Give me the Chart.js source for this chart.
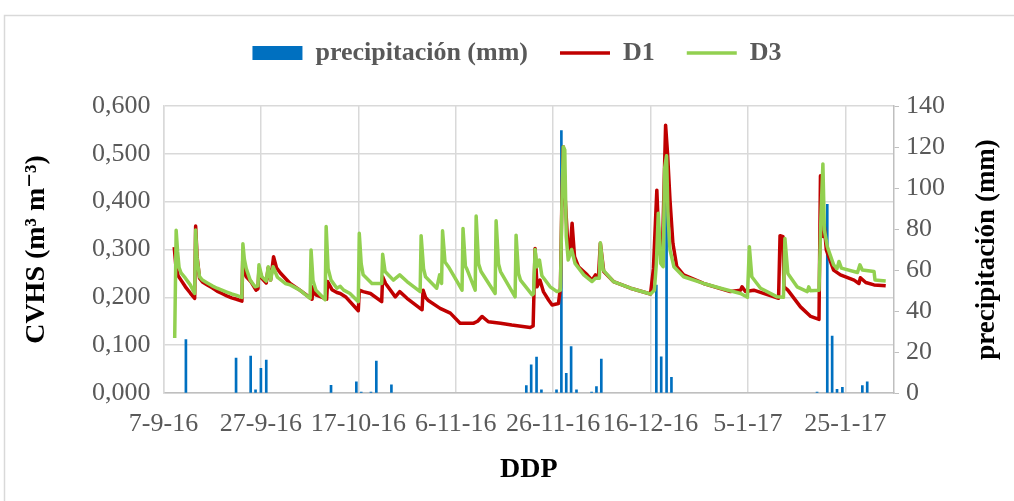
<!DOCTYPE html>
<html>
<head>
<meta charset="utf-8">
<title>CVHS y precipitación</title>
<script src="https://cdn.jsdelivr.net/npm/chart.js@4.4.1/dist/chart.umd.min.js"></script>
<style>
  html, body { margin: 0; padding: 0; background: #fff; }
  #wrap { width: 1014px; height: 501px; }
</style>
</head>
<body>
<div id="wrap"><canvas id="cvhsChart" width="1014" height="501"></canvas></div>
<script>
// días desde el 7-9-16
const xTickDays = [0, 20, 40, 60, 80, 100, 120, 140];
const xTickLabels = ['7-9-16', '27-9-16', '17-10-16', '6-11-16', '26-11-16', '16-12-16', '5-1-17', '25-1-17'];

// precipitación diaria (mm)
const rainDay = [4.6, 14.9, 17.9, 18.9, 20.0, 21.1, 34.4, 39.6, 40.6, 42.6, 43.7, 46.8,
  74.5, 75.5, 76.6, 77.6, 80.7, 81.7, 82.7, 83.7, 84.8, 87.9, 88.9, 89.9,
  101.2, 102.2, 103.3, 104.3, 134.2, 136.3, 137.3, 138.3, 139.4, 143.5, 144.5];
const rainMm = [26, 17, 18, 1.5, 12, 16, 3.8, 5.5, 0.5, 0.5, 15.6, 4,
  3.6, 13.7, 17.5, 1.5, 1.5, 128, 9.6, 22.6, 1.5, 0.5, 3.1, 16.6,
  52.7, 17.7, 112, 7.6, 0.5, 92, 27.8, 1.8, 2.8, 3.6, 5.5];

// sensor D1
const d1Day = [2.2, 2.5, 3.0, 3.6, 4.5, 5.5, 6.4, 6.6, 6.9, 7.4, 8, 9, 10, 11, 12, 13, 14, 15, 16.1,
  16.3, 16.6, 17, 18, 19, 19.4, 19.6, 20.2, 21.1, 21.5, 22, 22.6, 23.2, 24, 26, 28, 30.5,
  30.7, 31.3, 33.5, 33.7, 34.6, 35.6, 36.3, 37.5, 40, 40.2, 41, 42.5, 44.8, 45, 45.6, 47.6,
  48.5, 50, 53.1, 53.3, 53.8, 54.3, 56.8, 58.9, 60.9, 63.7, 64.5, 65.4, 66.7, 69.2, 71.5,
  75.3, 75.9, 76.3, 76.7, 77.3, 78, 79.1, 79.8, 81.1, 81.5, 81.8, 82.1, 82.5, 83, 83.5,
  83.9, 84.4, 85.2, 87, 88, 88.7, 89.3, 89.7, 90.4, 92.4, 95.9, 100, 100.6, 101.3, 101.8,
  102.4, 103.1, 103.5, 104, 104.6, 105.4, 106.8, 110.9, 116.4, 118.5, 118.8, 119.5, 121.2,
  126.3, 126.6, 127.2, 127.4, 128.2, 130.8, 132.9, 134.6, 134.9, 135.2, 135.5, 135.7,
  136.1, 137.6, 139, 141.8, 142.8, 143.1, 144.2, 145.9, 148.3];
const d1Val = [0.305, 0.270, 0.245, 0.236, 0.222, 0.209, 0.198, 0.349, 0.285, 0.240, 0.232, 0.226, 0.220, 0.213, 0.208, 0.203, 0.199, 0.196, 0.192,
  0.293, 0.255, 0.243, 0.232, 0.215, 0.218, 0.260, 0.240, 0.230, 0.262, 0.236, 0.285, 0.262, 0.251, 0.229, 0.215, 0.196,
  0.222, 0.205, 0.196, 0.233, 0.216, 0.210, 0.208, 0.200, 0.172, 0.215, 0.212, 0.208, 0.191, 0.243, 0.229, 0.201,
  0.212, 0.198, 0.174, 0.215, 0.200, 0.194, 0.177, 0.167, 0.146, 0.146, 0.150, 0.160, 0.149, 0.146, 0.142,
  0.137, 0.140, 0.302, 0.222, 0.236, 0.212, 0.194, 0.184, 0.187, 0.220, 0.400, 0.515, 0.404, 0.313, 0.299,
  0.355, 0.285, 0.264, 0.247, 0.236, 0.247, 0.240, 0.313, 0.254, 0.233, 0.219, 0.207, 0.260, 0.424, 0.299,
  0.275, 0.560, 0.501, 0.404, 0.313, 0.264, 0.247, 0.229, 0.212, 0.215, 0.222, 0.212, 0.215,
  0.198, 0.329, 0.327, 0.222, 0.215, 0.180, 0.160, 0.154, 0.454, 0.410, 0.327, 0.348,
  0.299, 0.257, 0.247, 0.236, 0.229, 0.241, 0.231, 0.226, 0.224];

// sensor D3
const d3Day = [2.3, 2.6, 2.9, 3.2, 3.6, 4.5, 5.5, 6.4, 6.6, 6.9, 7.4, 8, 9, 10, 11, 12, 13, 14, 15, 16.1,
  16.3, 16.6, 17, 17.8, 18.8, 19.4, 19.6, 20.2, 21.1, 21.5, 22, 22.5, 23.4, 25, 26, 28, 30.1,
  30.3, 30.7, 31.3, 33.2, 33.4, 33.8, 34.4, 35.6, 36.3, 37, 38.3, 40, 40.2, 40.6, 41, 42.8,
  44.8, 45, 45.5, 47.2, 48.5, 50, 52.7, 52.9, 53.4, 53.8, 56.1, 56.7, 57.1, 57.3, 57.8, 58.5,
  60.3, 61.3, 61.5, 62, 62.3, 64, 64.2, 64.7, 65.2, 68.1, 68.3, 68.8, 69.2, 72.2, 72.4, 72.9,
  73.3, 75.7, 76, 76.3, 76.7, 77.2, 77.7, 79.4, 80.8, 81.5, 81.8, 82.1, 82.4, 82.7, 83.1,
  83.8, 84.5, 86.3, 88, 88.7, 89.5, 89.7, 90.3, 92.4, 95.9, 100, 100.8, 101.2, 101.6, 102.1,
  102.6, 102.9, 103.3, 103.6, 104, 104.8, 106.8, 110.9, 114.4, 118.5, 119.9, 120.3, 120.8,
  122.6, 126, 127.3, 127.6, 128.2, 130.1, 132.2, 132.5, 132.8, 134.6, 135, 135.4, 135.7,
  136.3, 137.6, 138.3, 138.7, 139.2, 142.5, 143, 143.5, 145.9, 146.1, 148.3];
const d3Val = [0.115, 0.340, 0.295, 0.262, 0.251, 0.240, 0.226, 0.208, 0.341, 0.280, 0.243, 0.236, 0.230, 0.224, 0.219, 0.215, 0.211, 0.207, 0.204, 0.200,
  0.312, 0.280, 0.260, 0.236, 0.222, 0.224, 0.268, 0.243, 0.234, 0.264, 0.236, 0.264, 0.242, 0.229, 0.226, 0.215, 0.198,
  0.299, 0.235, 0.215, 0.195, 0.348, 0.260, 0.236, 0.219, 0.223, 0.215, 0.208, 0.191, 0.334, 0.270, 0.247, 0.229,
  0.229, 0.290, 0.254, 0.236, 0.247, 0.233, 0.212, 0.329, 0.260, 0.243, 0.219, 0.247, 0.229, 0.339, 0.274, 0.264,
  0.233, 0.215, 0.344, 0.265, 0.259, 0.215, 0.370, 0.270, 0.254, 0.208, 0.360, 0.270, 0.254, 0.201, 0.330, 0.250,
  0.236, 0.205, 0.208, 0.300, 0.264, 0.278, 0.245, 0.222, 0.212, 0.215, 0.390, 0.515, 0.508, 0.327, 0.278,
  0.300, 0.271, 0.247, 0.233, 0.240, 0.240, 0.314, 0.257, 0.233, 0.219, 0.207, 0.215, 0.270, 0.376, 0.271,
  0.264, 0.470, 0.496, 0.369, 0.299, 0.264, 0.243, 0.229, 0.219, 0.208, 0.200, 0.306, 0.243,
  0.219, 0.201, 0.200, 0.323, 0.250, 0.222, 0.212, 0.222, 0.214, 0.215, 0.369, 0.479, 0.341,
  0.306, 0.268, 0.260, 0.275, 0.261, 0.252, 0.268, 0.257, 0.254, 0.236, 0.234];

const toPoints = (xs, ys) => xs.map((x, i) => ({ x, y: ys[i] }));

const serif = '"Liberation Serif", "Times New Roman", "DejaVu Serif", serif';
const grey = '#595959';
const gridGrey = '#d9d9d9';

// marco exterior del gráfico
const framePlugin = {
  id: 'frame',
  beforeDraw(chart) {
    const { ctx } = chart;
    ctx.save();
    ctx.fillStyle = '#fff';
    ctx.fillRect(0, 0, chart.width, chart.height);
    ctx.strokeStyle = gridGrey;
    ctx.lineWidth = 1.5;
    ctx.strokeRect(4.5, 15.5, chart.width + 20, chart.height + 20);
    ctx.restore();
  },
};

// título del eje derecho, leído de abajo hacia arriba
const rightTitlePlugin = {
  id: 'rightTitle',
  afterDraw(chart) {
    const { ctx, chartArea } = chart;
    ctx.save();
    ctx.translate(987, (chartArea.top + chartArea.bottom) / 2);
    ctx.rotate(-Math.PI / 2);
    ctx.font = `bold 27px ${serif}`;
    ctx.fillStyle = '#000';
    ctx.textAlign = 'center';
    ctx.textBaseline = 'middle';
    ctx.fillText('precipitación (mm)', 0, 0);
    ctx.restore();
  },
};

// espacio entre la leyenda y el área de trazado
const legendGapPlugin = {
  id: 'legendGap',
  beforeInit(chart) {
    if (!chart.legend) return;
    const originalFit = chart.legend.fit;
    chart.legend.fit = function fit() {
      originalFit.call(this);
      this.height = 98;
    };
  },
};

new Chart(document.getElementById('cvhsChart'), {
  data: {
    datasets: [
      {
        type: 'bar',
        label: 'precipitación (mm)',
        data: toPoints(rainDay, rainMm),
        yAxisID: 'y2',
        backgroundColor: '#0070C0',
        borderWidth: 0,
        barThickness: 2,
        grouped: false,
        pointStyle: 'rect',
        order: 3,
      },
      {
        type: 'line',
        label: 'D1',
        data: toPoints(d1Day, d1Val),
        yAxisID: 'y',
        borderColor: '#C00000',
        backgroundColor: '#C00000',
        borderWidth: 3.5,
        pointRadius: 0,
        pointStyle: 'line',
        borderJoinStyle: 'round',
        tension: 0,
        order: 2,
      },
      {
        type: 'line',
        label: 'D3',
        data: toPoints(d3Day, d3Val),
        yAxisID: 'y',
        borderColor: '#92D050',
        backgroundColor: '#92D050',
        borderWidth: 3.5,
        pointRadius: 0,
        pointStyle: 'line',
        borderJoinStyle: 'round',
        tension: 0,
        order: 1,
      },
    ],
  },
  options: {
    responsive: false,
    animation: false,
    layout: {
      padding: { top: 8, left: 20, right: 0, bottom: 0 },
    },
    plugins: {
      legend: {
        position: 'top',
        labels: {
          usePointStyle: true,
          pointStyleWidth: 50,
          boxHeight: 14,
          padding: 32,
          color: grey,
          font: { family: serif, size: 26, weight: 'bold' },
          sort: (a, b) => a.datasetIndex - b.datasetIndex,
        },
      },
      tooltip: { enabled: true },
    },
    scales: {
      x: {
        type: 'linear',
        min: 0,
        max: 150,
        offset: false,
        afterBuildTicks(scale) {
          scale.ticks = xTickDays.map((value) => ({ value }));
        },
        afterFit(scale) {
          scale.height = 108;
        },
        ticks: {
          autoSkip: false,
          maxRotation: 0,
          padding: 16,
          color: grey,
          font: { family: serif, size: 26 },
          callback: (value) => xTickLabels[xTickDays.indexOf(value)],
        },
        grid: { color: gridGrey, lineWidth: 1.5, drawTicks: false, offset: false },
        border: { color: '#bfbfbf', width: 1.5 },
        title: {
          display: true,
          text: 'DDP',
          color: '#000',
          font: { family: serif, size: 28, weight: 'bold' },
          padding: { top: 0, bottom: 14 },
        },
      },
      y: {
        position: 'left',
        min: 0,
        max: 0.6,
        afterFit(scale) {
          scale.width = 143.5;
        },
        ticks: {
          stepSize: 0.1,
          padding: 13,
          color: grey,
          font: { family: serif, size: 26 },
          callback: (value) => value.toFixed(3).replace('.', ','),
        },
        grid: { color: gridGrey, lineWidth: 1.5, drawTicks: false },
        border: { color: gridGrey, width: 1.5 },
        title: {
          display: true,
          text: 'CVHS (m³ m⁻³)',
          color: '#000',
          font: { family: serif, size: 28, weight: 'bold' },
          padding: { top: 0, bottom: 0 },
        },
      },
      y2: {
        position: 'right',
        min: 0,
        max: 140,
        afterFit(scale) {
          scale.width = 120;
        },
        ticks: {
          stepSize: 20,
          padding: 7,
          color: grey,
          font: { family: serif, size: 26 },
        },
        grid: {
          drawOnChartArea: false,
          tickLength: 5,
          tickColor: '#bfbfbf',
        },
        border: { color: '#bfbfbf', width: 1.5 },
      },
    },
  },
  plugins: [framePlugin, legendGapPlugin, rightTitlePlugin],
});
</script>
</body>
</html>
